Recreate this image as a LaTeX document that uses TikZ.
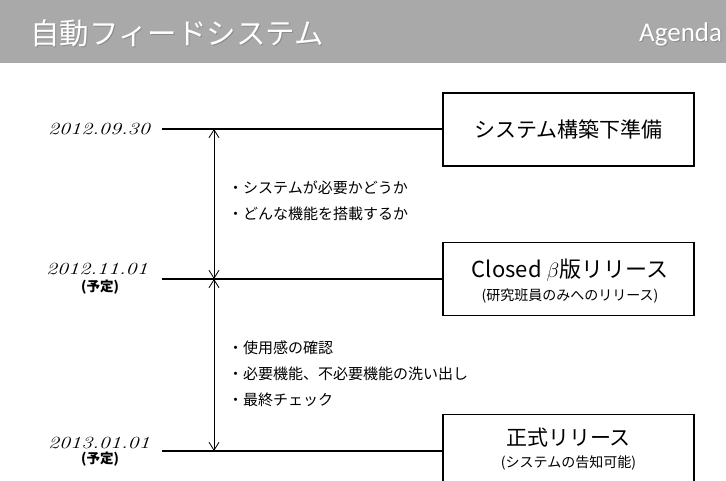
\documentclass[tikz,border=0pt]{standalone}
\usepackage{fontspec}
\usetikzlibrary{arrows.meta}
\newfontfamily\jp{Noto Sans CJK JP}
\newfontfamily\agfont{Carlito}
\definecolor{hdr}{HTML}{A9A9A9}
\newcommand{\wdate}[1]{\scalebox{1.3}[1]{#1}}
\begin{document}
\begin{tikzpicture}[x=1pt,y=-1pt,
  box/.style={draw,line width=1.2pt,minimum width=251pt,minimum height=73pt,inner sep=0pt},
  tline/.style={line width=2pt},
  span/.style={line width=0.8pt,{Straight Barb[length=8pt,width=10pt]}-{Straight Barb[length=8pt,width=10pt]}},
  datef/.style={font=\itshape\fontsize{17}{18}\selectfont,anchor=east,inner sep=0pt},
  plan/.style={font=\jp\bfseries\fontsize{13.5}{15}\selectfont,inner sep=0pt},
  note/.style={font=\jp\fontsize{15}{16}\selectfont,anchor=west,inner sep=0pt},
  big/.style={font=\jp\fontsize{21}{24}\selectfont,inner sep=0pt},
  small/.style={font=\jp\fontsize{14}{16}\selectfont,inner sep=0pt},
]
\useasboundingbox (0,0) rectangle (726,481);
\clip (0,0) rectangle (726,481);
\fill[white] (0,0) rectangle (726,481);
\fill[hdr] (0,0) rectangle (726,63);
% header
\node[anchor=west,inner sep=0pt,text=black!45,font=\jp\fontsize{29.5}{30}\selectfont] at (31,34) {自動フィードシステム};
\node[anchor=west,inner sep=0pt,text=white,font=\jp\fontsize{29.5}{30}\selectfont] (title) at (30,33) {自動フィードシステム};
\node[anchor=west,inner sep=0pt,text=black!45,font=\agfont\fontsize{27}{30}\selectfont] at (640,35) {Agenda};
\node[anchor=west,inner sep=0pt,text=white,font=\agfont\fontsize{27}{30}\selectfont] (agenda) at (639,34) {Agenda};
% boxes
\node[box] (b1) at (568.5,129.5) {};
\node[box] (b2) at (568.5,279) {};
\node[box] (b3) at (568.5,451) {};
\node[big] (t1) at (568.5,129) {システム構築下準備};
\node[big,font=\jp\fontsize{22}{24}\selectfont] (t2) at (570,270) {Closed $\beta$版リリース};
\node[small] (s2) at (570,296) {(研究班員のみへのリリース)};
\node[big] (t3) at (568.5,438) {正式リリース};
\node[small] (s3) at (568.5,463) {(システムの告知可能)};
% dates
\node[datef] (d1) at (150,129) {\wdate{2012.09.30}};
\node[datef] (d2) at (148,269) {\wdate{2012.11.01}};
\node[plan] (p2) at (100,287) {(予定)};
\node[datef] (d3) at (150,443) {\wdate{2013.01.01}};
\node[plan] (p3) at (100,459) {(予定)};
% timeline connectors
\coordinate (l1) at (162,129);
\coordinate (l2) at (162,279);
\coordinate (l3) at (162,451);
\draw[tline] (l1) -- (b1.west |- l1);
\draw[tline] (l2) -- (b2.west |- l2);
\draw[tline] (l3) -- (b3.west |- l3);
\coordinate (a1) at (214,129);
\coordinate (a2) at (214,279);
\coordinate (a3) at (214,451);
\draw[span] (a1) -- (a2);
\draw[span] (a2) -- (a3);
% notes
\node[note] (n1) at (228,188) {・システムが必要かどうか};
\node[note] (n2) at (228,214) {・どんな機能を搭載するか};
\node[note] (n3) at (228,348) {・使用感の確認};
\node[note] (n4) at (228,374) {・必要機能、不必要機能の洗い出し};
\node[note] (n5) at (228,400) {・最終チェック};
\end{tikzpicture}
\end{document}
